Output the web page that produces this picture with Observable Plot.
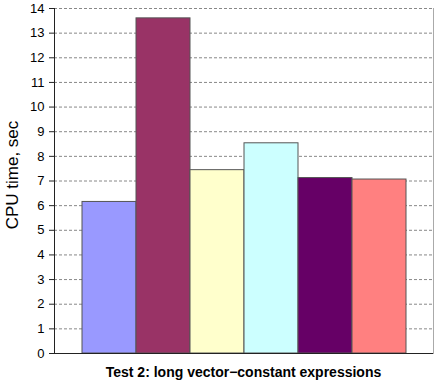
<!DOCTYPE html>
<html>
<head>
<meta charset="utf-8">
<script src="https://cdn.jsdelivr.net/npm/d3@7"></script>
<script src="https://cdn.jsdelivr.net/npm/@observablehq/plot@0.6"></script>
<style>
  body { margin: 0; background: #fff; font-family: "Liberation Sans", Arial, sans-serif; overflow: hidden; }
  #title { width: 436px; font-weight: bold; font-size: 14px; line-height: 16px; text-align: center; padding-left: 51px; box-sizing: border-box; margin-top: 4px; white-space: nowrap; }
</style>
</head>
<body>
<div id="chart"></div>
<div id="title">Test 2: long vector&#8722;constant expressions</div>
<script>
const categories = ["1", "2", "3", "4", "5", "6"];
const values = [6.15, 13.6, 7.44, 8.53, 7.12, 7.06];
const colors = ["#9999FF", "#993366", "#FFFFCC", "#CCFFFF", "#660066", "#FF8080"];
const yTicks = d3.range(0, 15);
const yLabel = "CPU time, sec";

const data = categories.map((c, i) => ({cat: c, value: values[i], color: colors[i]}));

const chart = Plot.plot({
  width: 436,
  height: 360,
  marginLeft: 54,
  marginRight: 3,
  marginTop: 8,
  marginBottom: 7,
  style: {fontFamily: "Liberation Sans, Arial, sans-serif", color: "#000", background: "#fff"},
  x: {domain: categories, paddingInner: 0, paddingOuter: 0.5, axis: null},
  y: {domain: [0, 14], ticks: yTicks},
  marks: [
    Plot.gridY(yTicks, {stroke: "#888", strokeOpacity: 1, strokeDasharray: "3,2"}),
    Plot.frame({anchor: "right", stroke: "#aaa"}),
    Plot.barY(data, {x: "cat", y: "value", fill: "color", stroke: "#555", strokeWidth: 1}),
    Plot.ruleY([0], {stroke: "#222"}),
    Plot.frame({anchor: "left", stroke: "#222"}),
    Plot.axisY(yTicks, {tickSize: 5, tickPadding: 5, fontSize: 13, label: null, stroke: "#222"}),
    Plot.text([yLabel], {frameAnchor: "left", textAnchor: "middle", rotate: -90, dx: -42, dy: -6, fontSize: 17})
  ]
});
document.getElementById("chart").appendChild(chart);
</script>
</body>
</html>
